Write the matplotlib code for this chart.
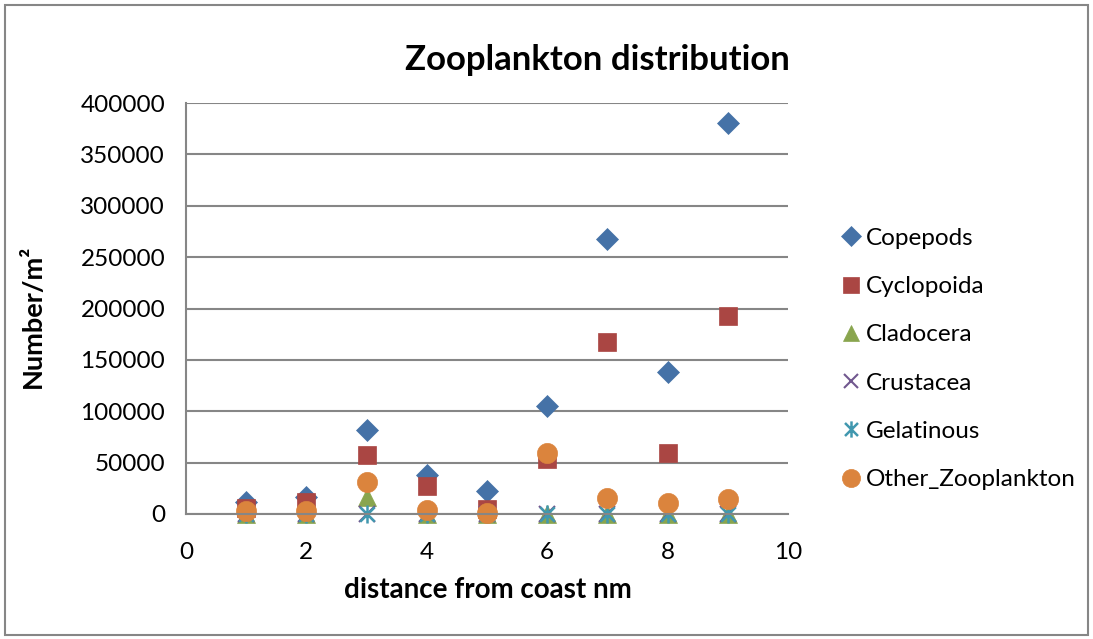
import matplotlib
matplotlib.use("Agg")
import matplotlib.pyplot as plt
from matplotlib.path import Path
from matplotlib.patches import Rectangle

plt.rcParams['font.family'] = ['Lato', 'DejaVu Sans']

distance = [1, 2, 3, 4, 5, 6, 7, 8, 9]
copepods = [12000, 16500, 81500, 38000, 22500, 105000, 268000, 138000, 380500]
cyclopoida = [6000, 12000, 57500, 27500, 5000, 53500, 167500, 59500, 193000]
cladocera = [0, 0, 16500, 0, 0, 0, 0, 0, 0]
crustacea = [0, 0, 0, 0, 0, 0, 0, 0, 0]
gelatinous = [0, 0, 0, 0, 0, 0, 0, 0, 0]
other_zoo = [3000, 3000, 31500, 4000, 1000, 59000, 15500, 11000, 14500]

y_ticks = [0, 50000, 100000, 150000, 200000, 250000, 300000, 350000, 400000]
x_ticks = [0, 2, 4, 6, 8, 10]

# excel style asterisk: vertical bar plus an x
star = Path([(0, -1), (0, 1), (-0.8, -0.8), (0.8, 0.8), (-0.8, 0.8), (0.8, -0.8)],
            [Path.MOVETO, Path.LINETO, Path.MOVETO, Path.LINETO, Path.MOVETO, Path.LINETO])

series = [
    ("Copepods", copepods, dict(marker="D", color="#4572A7", ms=11)),
    ("Cyclopoida", cyclopoida, dict(marker="s", color="#AA4643", ms=12.5)),
    ("Cladocera", cladocera, dict(marker="^", color="#89A54E", ms=13)),
    ("Crustacea", crustacea, dict(marker="x", color="#71588F", ms=11, mew=1.5)),
    ("Gelatinous", gelatinous, dict(marker=star, color="#4198AF", ms=13, mew=1.8)),
    ("Other_Zooplankton", other_zoo, dict(marker="o", color="#DB843D", ms=14.5)),
]

fig = plt.figure(figsize=(10.93, 6.39), dpi=100)
ax = fig.add_axes([186 / 1093, 125 / 639, 602 / 1093, 411 / 639])

for name, vals, st in series:
    ax.plot(distance, vals, linestyle="none", label=name, clip_on=False,
            marker=st["marker"], color=st["color"], markersize=st["ms"],
            markeredgewidth=st.get("mew", 0.5))

ax.set_xlim(0, 10)
ax.set_ylim(0, 400000)
ax.set_xticks(x_ticks)
ax.set_yticks(y_ticks)
ax.tick_params(length=0, labelsize=17.5, colors="black")
ax.tick_params(axis="y", pad=15)
ax.tick_params(axis="x", pad=20)
ax.yaxis.grid(True, color="#868686", linewidth=1.5)
ax.set_axisbelow(True)
for s in ["top", "right"]:
    ax.spines[s].set_visible(False)
for s in ["left", "bottom"]:
    ax.spines[s].set_color("#868686")
    ax.spines[s].set_linewidth(1.5)

fig.text(597 / 1093, 1 - 60 / 639, "Zooplankton distribution", fontsize=25,
         fontweight="bold", ha="center", va="center")
fig.text(488 / 1093, 1 - 590 / 639, "distance from coast nm", fontsize=20,
         fontweight="bold", ha="center", va="center")
fig.text(33 / 1093, 1 - 316 / 639, "Number/m²", fontsize=19.5, fontweight="bold",
         ha="center", va="center", rotation=90)

ax.legend(loc="upper left", bbox_to_anchor=(816 / 1093, 1 - 206 / 639),
          bbox_transform=fig.transFigure, frameon=False, fontsize=17.5,
          handletextpad=0.05, labelspacing=1.12, handlelength=1.1, markerscale=0.9)

fig.patches.append(Rectangle((5 / 1093, 4 / 639), 1083 / 1093, 630 / 639,
                             transform=fig.transFigure, fill=False,
                             edgecolor="#868686", linewidth=1.5))

fig.savefig("out.png", dpi=100)
